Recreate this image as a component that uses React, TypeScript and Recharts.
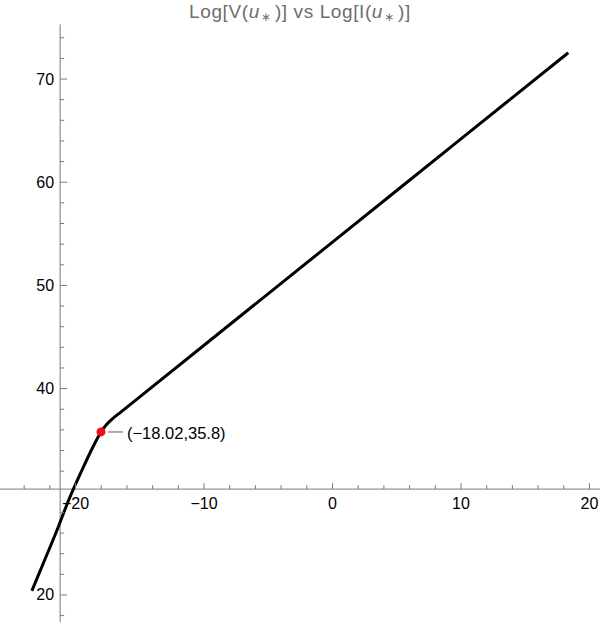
import { ComposedChart, Line, Scatter, XAxis, YAxis, ReferenceLine } from 'recharts';

// curve samples
const curveX = [-23.4, -22.5, -21.5, -20.5, -19.5, -18.5, -18.02, -17.6, -17.2, -16.5, -15, -10, 0, 10, 18.35];
const curveY = [20.4, 23.1, 26.1, 29.3, 32.1, 34.7, 35.8, 36.5, 37.0, 37.7, 39.2, 44.2, 54.2, 64.2, 72.55];

// highlighted point
const markX = -18.02;
const markY = 35.8;
const markText = '(\u221218.02,35.8)';

// axes cross here (Mathematica style)
const originX = -21.2;
const originY = 30.26;
const yAxisTop = 75.3;

const xDomain = [-25.88, 20.82];
const yDomain = [17.38, 77.66];

const xMajor = [-20, -10, 0, 10, 20];
const xMajorLabels = ['\u221220', '\u221210', '0', '10', '20'];
const xMinor = [-24, -22, -18, -16, -14, -12, -8, -6, -4, -2, 2, 4, 6, 8, 12, 14, 16, 18];

const yMajor = [20, 40, 50, 60, 70];
const yMajorLabels = ['20', '40', '50', '60', '70'];
const yMinor = [18, 22, 24, 26, 28, 32, 34, 36, 38, 42, 44, 46, 48, 52, 54, 56, 58, 62, 64, 66, 68, 72, 74];

const curve = curveX.map((x, i) => ({ x, y: curveY[i] }));
const xMajorTicks = xMajor.map((x, i) => ({ x, y: originY, label: xMajorLabels[i], len: 6 }));
const xMinorTicks = xMinor.map((x) => ({ x, y: originY, label: '', len: 4 }));
const yMajorTicks = yMajor.map((y, i) => ({ x: originX, y, label: yMajorLabels[i], len: 7 }));
const yMinorTicks = yMinor.map((y) => ({ x: originX, y, label: '', len: 4 }));

const AXIS = '#7a7a7a';
const FONT = '"Liberation Sans", Arial, sans-serif';

function XTick(props: any) {
  const { cx, cy, payload } = props;
  return (
    <g>
      <line x1={cx} y1={cy} x2={cx} y2={cy - payload.len} stroke={AXIS} strokeWidth={1} />
      {payload.label && (
        <text x={cx} y={cy + 14} textAnchor="middle" dominantBaseline="central" fontSize={16} fontFamily={FONT} fill="#000">
          {payload.label}
        </text>
      )}
    </g>
  );
}

function YTick(props: any) {
  const { cx, cy, payload } = props;
  return (
    <g>
      <line x1={cx} y1={cy} x2={cx + payload.len} y2={cy} stroke={AXIS} strokeWidth={1} />
      {payload.label && (
        <text x={cx - 6} y={cy} textAnchor="end" dominantBaseline="central" fontSize={16} fontFamily={FONT} fill="#000">
          {payload.label}
        </text>
      )}
    </g>
  );
}

function Marker(props: any) {
  const { cx, cy } = props;
  return (
    <g>
      <line x1={cx + 7} y1={cy} x2={cx + 22} y2={cy} stroke="#aaaaaa" strokeWidth={2} />
      <circle cx={cx} cy={cy} r={4.5} fill="#ee1111" />
      <text x={cx + 26} y={cy + 1} dominantBaseline="central" fontSize={16.5} fontFamily={FONT} fill="#000">
        {markText}
      </text>
    </g>
  );
}

const star = (
  <span
    style={{
      fontFamily: '"DejaVu Sans", sans-serif',
      fontSize: 12,
      position: 'relative',
      top: 3,
      marginLeft: 1,
      marginRight: 4,
      letterSpacing: 0,
    }}
  >
    {'\u2217'}
  </span>
);

export default function App() {
  return (
    <div style={{ position: 'absolute', left: 0, top: 0, width: 600, height: 622, background: '#fff' }}>
      <div
        style={{
          position: 'absolute',
          top: 1,
          left: 0,
          width: 600,
          textAlign: 'center',
          fontFamily: FONT,
          fontSize: 19,
          letterSpacing: 0.6,
          color: '#6e6e6e',
          zIndex: 2,
        }}
      >
        Log[V(<i>u</i>{star})] vs Log[I(<i>u</i>{star})]
      </div>
      <ComposedChart width={600} height={622} margin={{ top: 0, right: 0, bottom: 0, left: 0 }}>
        <XAxis type="number" dataKey="x" domain={xDomain} allowDataOverflow hide />
        <YAxis type="number" dataKey="y" domain={yDomain} allowDataOverflow hide />
        <ReferenceLine y={originY} stroke={AXIS} strokeWidth={1} />
        <ReferenceLine
          segment={[
            { x: originX, y: yAxisTop },
            { x: originX, y: yDomain[0] },
          ]}
          stroke={AXIS}
          strokeWidth={1}
        />
        <Scatter data={xMinorTicks} shape={XTick} isAnimationActive={false} />
        <Scatter data={xMajorTicks} shape={XTick} isAnimationActive={false} />
        <Scatter data={yMinorTicks} shape={YTick} isAnimationActive={false} />
        <Scatter data={yMajorTicks} shape={YTick} isAnimationActive={false} />
        <Line
          data={curve}
          dataKey="y"
          type="monotone"
          stroke="#000"
          strokeWidth={3}
          dot={false}
          activeDot={false}
          legendType="none"
          isAnimationActive={false}
        />
        <Scatter data={[{ x: markX, y: markY }]} shape={Marker} isAnimationActive={false} />
      </ComposedChart>
    </div>
  );
}
